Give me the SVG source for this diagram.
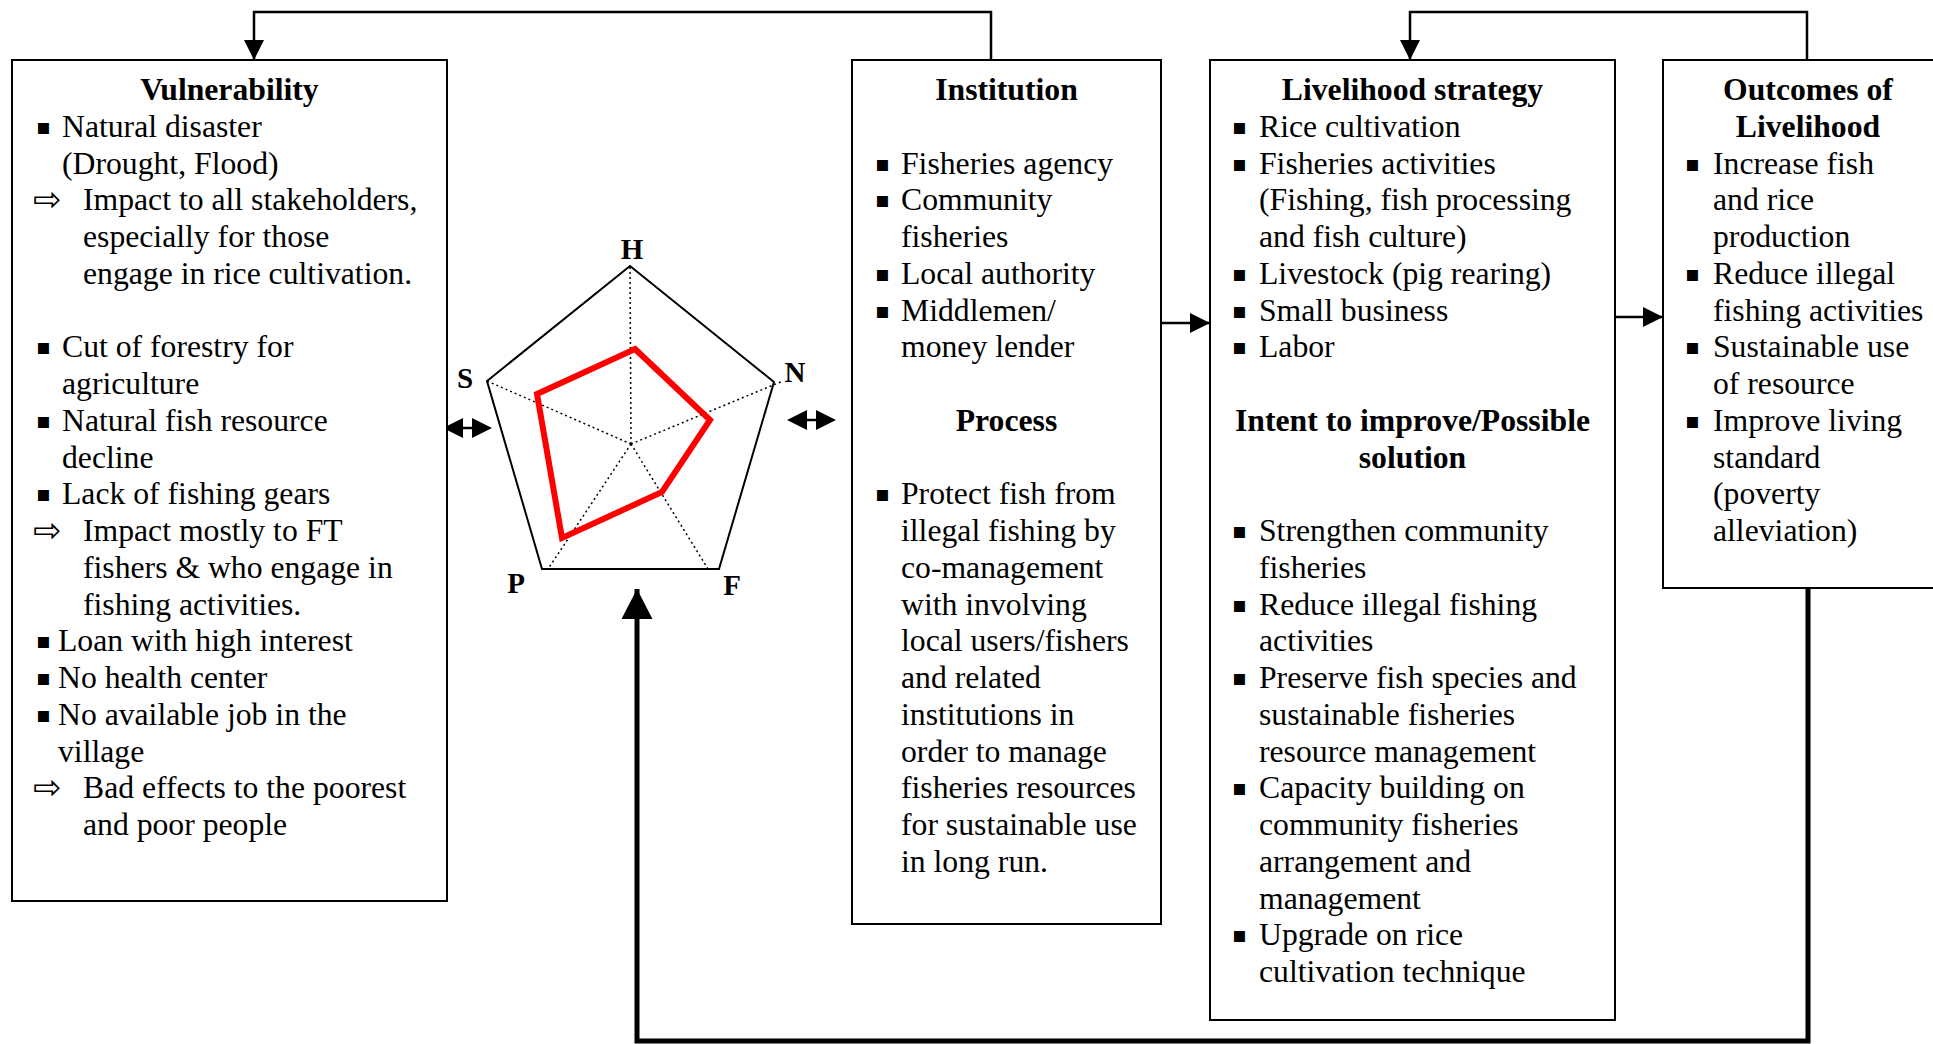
<svg xmlns="http://www.w3.org/2000/svg" width="1933" height="1044" viewBox="0 0 1933 1044">
<defs>
<style>
.box{fill:#fff;stroke:#000;stroke-width:2}
.t{font-family:"Liberation Serif","Times New Roman",serif;font-size:31.7px;fill:#000}
.b{font-family:"Liberation Serif","Times New Roman",serif;font-size:31.7px;font-weight:bold;fill:#000;text-anchor:middle}
.lab{font-family:"Liberation Serif","Times New Roman",serif;font-size:29px;font-weight:bold;fill:#000;text-anchor:middle}
.bu{font-family:"DejaVu Sans",sans-serif;font-size:22px;fill:#000}
.ar{font-family:"DejaVu Sans",sans-serif;font-size:34px;fill:#000}
.ln{fill:none;stroke:#000;stroke-width:2.5}
.thick{fill:none;stroke:#000;stroke-width:5}
.dot{fill:none;stroke:#000;stroke-width:1.5;stroke-dasharray:2 3}
</style>
<marker id="ah" markerUnits="userSpaceOnUse" markerWidth="20" markerHeight="20" refX="20" refY="10" orient="auto" viewBox="0 0 20 20">
<path d="M0,0 L20,10 L0,20 Z" fill="#000"/>
</marker>
<marker id="ahb" markerUnits="userSpaceOnUse" markerWidth="30" markerHeight="31" refX="30" refY="15.5" orient="auto" viewBox="0 0 30 31">
<path d="M0,0 L30,15.5 L0,31 Z" fill="#000"/>
</marker>
</defs>
<rect width="1933" height="1044" fill="#fff"/>

<g id="connectors">
<polyline class="ln" points="991,60 991,12 254,12 254,60" marker-end="url(#ah)"/>
<polyline class="ln" points="1807,60 1807,12 1410,12 1410,60" marker-end="url(#ah)"/>
<line class="ln" x1="1161" y1="323" x2="1210" y2="323" marker-end="url(#ah)"/>
<line class="ln" x1="1615" y1="317" x2="1663" y2="317" marker-end="url(#ah)"/>
<polyline class="thick" points="1808,588 1808,1041 637,1041 637,589" marker-end="url(#ahb)"/>
<g id="dbl-left">
<polygon points="443,428 463,418 463,438" fill="#000"/>
<polygon points="492,428 472,418 472,438" fill="#000"/>
<line x1="462" y1="428" x2="473" y2="428" stroke="#000" stroke-width="2.5"/>
</g>
<g id="dbl-right">
<polygon points="787,420 807,410 807,430" fill="#000"/>
<polygon points="836,420 816,410 816,430" fill="#000"/>
<line x1="806" y1="420" x2="817" y2="420" stroke="#000" stroke-width="2.5"/>
</g>
</g>

<g id="vulnerability">
<rect class="box" x="12" y="60" width="435" height="841"/>
<text class="b" x="229.5" y="100">Vulnerability</text>
<text class="bu" x="36" y="134">▪</text>
<text class="t" x="62" y="137">Natural disaster</text>
<text class="t" x="62" y="173.5">(Drought, Flood)</text>
<text class="ar" x="33" y="211">⇨</text>
<text class="t" x="83" y="210.25">Impact to all stakeholders,</text>
<text class="t" x="83" y="247">especially for those</text>
<text class="t" x="83" y="283.75">engage in rice cultivation.</text>
<text class="bu" x="36" y="354.25">▪</text>
<text class="t" x="62" y="357.25">Cut of forestry for</text>
<text class="t" x="62" y="394">agriculture</text>
<text class="bu" x="36" y="427.75">▪</text>
<text class="t" x="62" y="430.75">Natural fish resource</text>
<text class="t" x="62" y="467.5">decline</text>
<text class="bu" x="36" y="501.25">▪</text>
<text class="t" x="62" y="504.25">Lack of fishing gears</text>
<text class="ar" x="33" y="542">⇨</text>
<text class="t" x="83" y="541">Impact mostly to FT</text>
<text class="t" x="83" y="577.75">fishers &amp; who engage in</text>
<text class="t" x="83" y="614.5">fishing activities.</text>
<text class="bu" x="36" y="648.25">▪</text>
<text class="t" x="58" y="651.25">Loan with high interest</text>
<text class="bu" x="36" y="685">▪</text>
<text class="t" x="58" y="688">No health center</text>
<text class="bu" x="36" y="721.75">▪</text>
<text class="t" x="58" y="724.75">No available job in the</text>
<text class="t" x="58" y="761.5">village</text>
<text class="ar" x="33" y="799">⇨</text>
<text class="t" x="83" y="798.25">Bad effects to the poorest</text>
<text class="t" x="83" y="835">and poor people</text>
</g>

<g id="pentagon">
<polygon points="630,266 774,382 719,569 542,569 487,381" fill="none" stroke="#000" stroke-width="2"/>
<line class="dot" x1="631" y1="444" x2="630" y2="266"/>
<line class="dot" x1="631" y1="444" x2="783" y2="381"/>
<line class="dot" x1="631" y1="444" x2="708" y2="569"/>
<line class="dot" x1="631" y1="444" x2="548" y2="569"/>
<line class="dot" x1="631" y1="444" x2="487" y2="381"/>
<polygon points="635,349 710,420 662,492 562,538 537,394" fill="none" stroke="#ff0000" stroke-width="6"/>
<text class="lab" x="632" y="259">H</text>
<text class="lab" x="795" y="382">N</text>
<text class="lab" x="732" y="595">F</text>
<text class="lab" x="516" y="593">P</text>
<text class="lab" x="465" y="388">S</text>
</g>

<g id="institution">
<rect class="box" x="852" y="60" width="309" height="864"/>
<text class="b" x="1006.5" y="100">Institution</text>
<text class="bu" x="875" y="170.5">▪</text>
<text class="t" x="901" y="173.5">Fisheries agency</text>
<text class="bu" x="875" y="207.25">▪</text>
<text class="t" x="901" y="210.25">Community</text>
<text class="t" x="901" y="247">fisheries</text>
<text class="bu" x="875" y="280.75">▪</text>
<text class="t" x="901" y="283.75">Local authority</text>
<text class="bu" x="875" y="317.5">▪</text>
<text class="t" x="901" y="320.5">Middlemen/</text>
<text class="t" x="901" y="357.25">money lender</text>
<text class="b" x="1006.5" y="430.75">Process</text>
<text class="bu" x="875" y="501.25">▪</text>
<text class="t" x="901" y="504.25">Protect fish from</text>
<text class="t" x="901" y="541">illegal fishing by</text>
<text class="t" x="901" y="577.75">co-management</text>
<text class="t" x="901" y="614.5">with involving</text>
<text class="t" x="901" y="651.25">local users/fishers</text>
<text class="t" x="901" y="688">and related</text>
<text class="t" x="901" y="724.75">institutions in</text>
<text class="t" x="901" y="761.5">order to manage</text>
<text class="t" x="901" y="798.25">fisheries resources</text>
<text class="t" x="901" y="835">for sustainable use</text>
<text class="t" x="901" y="871.75">in long run.</text>
</g>

<g id="livelihood">
<rect class="box" x="1210" y="60" width="405" height="960"/>
<text class="b" x="1412.5" y="100">Livelihood strategy</text>
<text class="bu" x="1232" y="134">▪</text>
<text class="t" x="1259" y="137">Rice cultivation</text>
<text class="bu" x="1232" y="170.5">▪</text>
<text class="t" x="1259" y="173.5">Fisheries activities</text>
<text class="t" x="1259" y="210.25">(Fishing, fish processing</text>
<text class="t" x="1259" y="247">and fish culture)</text>
<text class="bu" x="1232" y="280.75">▪</text>
<text class="t" x="1259" y="283.75">Livestock (pig rearing)</text>
<text class="bu" x="1232" y="317.5">▪</text>
<text class="t" x="1259" y="320.5">Small business</text>
<text class="bu" x="1232" y="354.25">▪</text>
<text class="t" x="1259" y="357.25">Labor</text>
<text class="b" x="1412.5" y="430.75">Intent to improve/Possible</text>
<text class="b" x="1412.5" y="467.5">solution</text>
<text class="bu" x="1232" y="538">▪</text>
<text class="t" x="1259" y="541">Strengthen community</text>
<text class="t" x="1259" y="577.75">fisheries</text>
<text class="bu" x="1232" y="611.5">▪</text>
<text class="t" x="1259" y="614.5">Reduce illegal fishing</text>
<text class="t" x="1259" y="651.25">activities</text>
<text class="bu" x="1232" y="685">▪</text>
<text class="t" x="1259" y="688">Preserve fish species and</text>
<text class="t" x="1259" y="724.75">sustainable fisheries</text>
<text class="t" x="1259" y="761.5">resource management</text>
<text class="bu" x="1232" y="795.25">▪</text>
<text class="t" x="1259" y="798.25">Capacity building on</text>
<text class="t" x="1259" y="835">community fisheries</text>
<text class="t" x="1259" y="871.75">arrangement and</text>
<text class="t" x="1259" y="908.5">management</text>
<text class="bu" x="1232" y="942.25">▪</text>
<text class="t" x="1259" y="945.25">Upgrade on rice</text>
<text class="t" x="1259" y="982">cultivation technique</text>
</g>

<g id="outcomes">
<rect class="box" x="1663" y="60" width="290" height="528"/>
<text class="b" x="1808" y="100">Outcomes of</text>
<text class="b" x="1808" y="137">Livelihood</text>
<text class="bu" x="1685" y="170.5">▪</text>
<text class="t" x="1713" y="173.5">Increase fish</text>
<text class="t" x="1713" y="210.25">and rice</text>
<text class="t" x="1713" y="247">production</text>
<text class="bu" x="1685" y="280.75">▪</text>
<text class="t" x="1713" y="283.75">Reduce illegal</text>
<text class="t" x="1713" y="320.5">fishing activities</text>
<text class="bu" x="1685" y="354.25">▪</text>
<text class="t" x="1713" y="357.25">Sustainable use</text>
<text class="t" x="1713" y="394">of resource</text>
<text class="bu" x="1685" y="427.75">▪</text>
<text class="t" x="1713" y="430.75">Improve living</text>
<text class="t" x="1713" y="467.5">standard</text>
<text class="t" x="1713" y="504.25">(poverty</text>
<text class="t" x="1713" y="541">alleviation)</text>
</g>
</svg>
